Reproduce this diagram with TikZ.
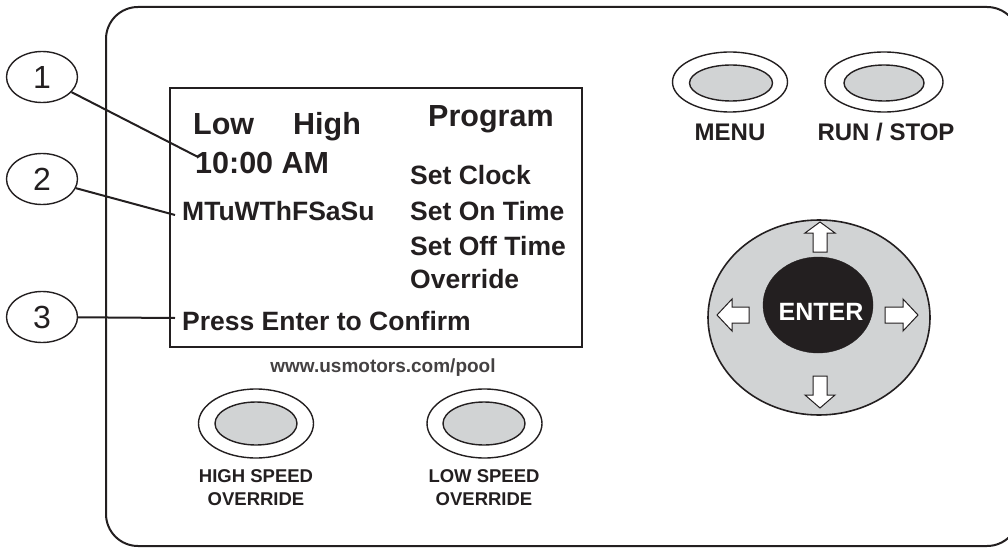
\documentclass[tikz,border=0pt]{standalone}
\usepackage{fontspec}
\setmainfont{Liberation Sans}
\usetikzlibrary{shapes.geometric}
\definecolor{ink}{HTML}{231F20}
\definecolor{btngrey}{HTML}{D1D3D4}
\newcommand{\fs}[1]{\fontsize{#1}{#1}\selectfont}
\tikzset{
  panel/.style={draw=ink, line width=2pt},
  callout/.style={draw=ink, ellipse, line width=1.4pt, minimum width=71pt, minimum height=51pt, inner sep=0pt, font=\fs{32}, text=ink},
  lead/.style={draw=ink, line width=2pt},
  scr/.style={inner sep=0pt, anchor=base west, text=ink, font=\bfseries\fs{26.5}},
  big/.style={inner sep=0pt, anchor=base west, text=ink, font=\bfseries\fs{30.5}},
  lbl/.style={inner sep=0pt, anchor=base, text=ink, font=\bfseries\fs{24}, align=center},
  small/.style={inner sep=0pt, anchor=base, text=ink, font=\bfseries\fs{18.5}, align=center},
  outerbtn/.style={draw=ink, fill=white, ellipse, line width=1.4pt, inner sep=0pt},
  innerbtn/.style={draw=ink, fill=btngrey, ellipse, line width=1.4pt, inner sep=0pt},
  blockarrow/.style={draw=ink, fill=white, line width=1pt, line join=miter},
}
\begin{document}
\begin{tikzpicture}[x=1pt, y=-1pt]
\useasboundingbox (0,0) rectangle (1008,548);
\clip (0,0) rectangle (1008,548);
% panel
\draw[panel, rounded corners=32pt] (106,7) rectangle (1019,546);
% screen
\draw[panel] (170,88) rectangle (582,347);
% screen text
\node[big] (low) at (193,135) {Low};
\node[big] (high) at (293,135) {High};
\node[big] (prog) at (428,127) {Program};
\node[big] (time) at (195,173) {10:00 AM};
\node[scr] (days) at (182,220) {MTuWThFSaSu};
\node[scr] (m1) at (410,185) {Set Clock};
\node[scr] (m2) at (410,220) {Set On Time};
\node[scr] (m3) at (410,255) {Set Off Time};
\node[scr] (m4) at (410,288) {Override};
\node[scr] (press) at (182,330) {Press Enter to Confirm};
% callouts
\node[callout] (c1) at (42,77) {1};
\node[callout] (c2) at (42,179) {2};
\node[callout] (c3) at (42,317) {3};
\coordinate (p1) at (198,157);
\coordinate (p2) at (175,215);
\coordinate (p3) at (175,318);
\draw[lead] (c1) -- (p1);
\draw[lead] (c2) -- (p2);
\draw[lead] (c3) -- (p3);
% url
\node[inner sep=0pt, anchor=base, text=ink!85, font=\bfseries\fs{19}] (url) at (383,372) {www.usmotors.com/pool};
% top buttons
\node[outerbtn, minimum width=115pt, minimum height=60pt] (menuO) at (730,82) {};
\node[innerbtn, minimum width=83pt, minimum height=36pt] (menuI) at (731,83) {};
\node[lbl] (menuL) at (730,141) {MENU};
\node[outerbtn, minimum width=118pt, minimum height=60pt] (runO) at (884,82) {};
\node[innerbtn, minimum width=80pt, minimum height=36pt] (runI) at (884,83) {};
\node[lbl] (runL) at (886,141) {RUN / STOP};
% bottom buttons
\node[outerbtn, minimum width=115pt, minimum height=69pt] (hiO) at (256,423.5) {};
\node[innerbtn, minimum width=82pt, minimum height=43pt] (hiI) at (256,423.5) {};
\node[small] (hiL) at (256,482) {HIGH SPEED};
\node[small] (hiL2) at (256,505) {OVERRIDE};
\node[outerbtn, minimum width=115pt, minimum height=69pt] (loO) at (484.5,423.5) {};
\node[innerbtn, minimum width=82pt, minimum height=43pt] (loI) at (484,423.5) {};
\node[small] (loL) at (484,482) {LOW SPEED};
\node[small] (loL2) at (484,505) {OVERRIDE};
% d-pad
\node[draw=ink, fill=btngrey, ellipse, line width=1.6pt, minimum width=222pt, minimum height=195pt, inner sep=0pt] (pad) at (819,317.5) {};
\node[draw=ink, fill=ink, ellipse, minimum width=110pt, minimum height=96pt, inner sep=0pt] (enter) at (818,305) {};
\node[inner sep=0pt, anchor=base, text=white, font=\bfseries\fs{25}] (enterL) at (821,320) {ENTER};
% arrows
\draw[blockarrow] (820,222) -- (835,233) -- (827,233) -- (827,252) -- (813,252) -- (813,233) -- (805,233) -- cycle;
\draw[blockarrow] (820,408) -- (835,395) -- (827,395) -- (827,376) -- (813,376) -- (813,395) -- (805,395) -- cycle;
\draw[blockarrow] (717,315) -- (732,299) -- (732,307) -- (749,307) -- (749,323) -- (732,323) -- (732,331) -- cycle;
\draw[blockarrow] (918,315) -- (903,299) -- (903,307) -- (885,307) -- (885,323) -- (903,323) -- (903,331) -- cycle;
\end{tikzpicture}
\end{document}
